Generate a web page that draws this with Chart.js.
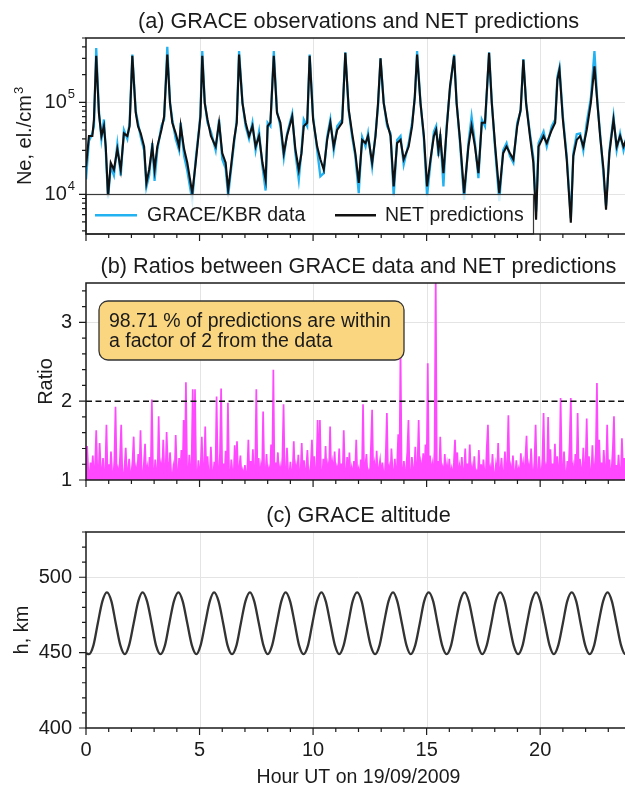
<!DOCTYPE html>
<html>
<head>
<meta charset="utf-8">
<script src="https://cdn.jsdelivr.net/npm/chart.js@4"></script>
<style>
  html, body { margin: 0; padding: 0; overflow: hidden; background: #fff; width: 625px; height: 785px; }
  .panel { position: absolute; left: 0; width: 631px; }
  canvas { display: block; }
</style>
</head>
<body>
<div class="panel" style="top:0;height:250px"><canvas id="neChart" width="631" height="250"></canvas></div>
<div class="panel" style="top:250px;height:240px"><canvas id="ratioChart" width="631" height="240"></canvas></div>
<div class="panel" style="top:490px;height:295px"><canvas id="altChart" width="631" height="295"></canvas></div>
<script>
// ---- data ----
const neHours = [
  0.00, 0.13, 0.28, 0.35, 0.45, 0.57, 0.68, 0.79, 0.87, 0.97, 1.09, 1.23, 1.38, 1.53, 1.67, 1.82, 1.92, 2.04,
  2.19, 2.29, 2.41, 2.56, 2.66, 2.78, 2.92, 3.02, 3.14, 3.32, 3.44, 3.58,
  3.70, 3.80, 3.95, 4.10, 4.17, 4.32, 4.46, 4.68, 4.83, 4.98, 5.04, 5.12,
  5.23, 5.35, 5.50, 5.71, 5.86, 6.00, 6.15, 6.26, 6.37, 6.52, 6.64, 6.74,
  6.89, 7.03, 7.18, 7.33, 7.47, 7.62, 7.77, 7.91, 8.00, 8.12, 8.27,
  8.41, 8.56, 8.71, 8.85, 9.08, 9.22, 9.37, 9.49, 9.59, 9.74, 9.85,
  10.00, 10.18, 10.32, 10.47, 10.62, 10.76, 10.91, 11.06, 11.28, 11.42,
  11.57, 11.72, 11.86, 12.01, 12.16, 12.31, 12.42, 12.60, 12.75, 12.86, 12.97,
  13.11, 13.26, 13.41, 13.55, 13.70, 13.85, 13.99, 14.21, 14.36, 14.48, 14.58,
  14.73, 14.88, 15.02, 15.17, 15.32, 15.42, 15.52, 15.60, 15.74, 15.88, 16.03, 16.21,
  16.32, 16.47, 16.65, 16.84, 16.98, 17.13, 17.28, 17.43, 17.57, 17.75,
  17.87, 18.02, 18.20, 18.37, 18.52, 18.67, 18.82, 18.99, 19.14, 19.26,
  19.38, 19.55, 19.70, 19.82, 19.93, 20.15, 20.29, 20.51, 20.66, 20.76, 20.85,
  21.00, 21.17, 21.35, 21.46, 21.61, 21.76, 21.90, 22.05, 22.23, 22.39,
  22.52, 22.64, 22.79, 22.90, 23.05, 23.23, 23.37, 23.52, 23.67, 23.80, 24.00
];
const netNe = [
  2.0e4, 4.3e4, 4.3e4, 6.5e4, 3.2e5, 7.5e4, 4.3e4, 5.5e4, 3.3e4, 9.5e3, 2.2e4, 1.85e4, 3.1e4, 1.85e4, 4.6e4, 4.3e4, 5.5e4, 3.2e5,
  7.7e4, 5.5e4, 4.6e4, 3.3e4, 1.33e4, 1.85e4, 3.3e4, 1.85e4, 3.3e4, 5.0e4, 7.0e4, 3.3e5,
  9.8e4, 6.0e4, 4.6e4, 3.3e4, 5.5e4, 3.1e4, 2.2e4, 1.03e4, 2.2e4, 5.0e4, 7.0e4, 3.2e5,
  9.8e4, 6.5e4, 4.3e4, 3.3e4, 6.0e4, 2.8e4, 2.2e4, 1.12e4, 1.85e4, 3.9e4, 6.0e4, 3.3e5,
  9.8e4, 6.0e4, 4.3e4, 5.5e4, 3.3e4, 4.3e4, 2.2e4, 1.44e4, 5.5e4, 6.0e4, 3.2e5,
  7.7e4, 6.0e4, 2.8e4, 4.3e4, 7.0e4, 3.1e4, 1.85e4, 2.8e4, 5.5e4, 6.0e4, 3.2e5,
  6.5e4, 3.3e4, 2.4e4, 1.85e4, 3.9e4, 6.0e4, 3.3e4, 5.0e4, 6.0e4, 3.45e5,
  8.3e4, 4.6e4, 2.8e4, 1.33e4, 3.9e4, 3.6e4, 4.3e4, 2.2e4, 4.3e4, 9.8e4, 3.0e5,
  9.8e4, 6.0e4, 4.3e4, 1.22e4, 3.6e4, 3.9e4, 2.4e4, 3.3e4, 5.5e4, 1.16e5, 3.3e5,
  9.8e4, 4.3e4, 1.22e4, 2.4e4, 4.3e4, 5.0e4, 3.0e4, 4.3e4, 1.7e4, 5.0e4, 1.5e5, 3.2e5,
  9.8e4, 3.9e4, 1.03e4, 3.3e4, 5.5e4, 3.3e4, 1.7e4, 6.0e4, 6.0e4, 3.45e5,
  9.8e4, 3.3e4, 1.03e4, 2.8e4, 3.3e4, 2.8e4, 2.4e4, 5.5e4, 8.3e4, 2.9e5,
  9.8e4, 4.3e4, 2.2e4, 5.3e3, 3.3e4, 4.3e4, 3.6e4, 5.0e4, 6.0e4, 1.76e5, 2.26e5,
  6.5e4, 2.4e4, 4.9e3, 2.6e4, 3.9e4, 4.3e4, 3.3e4, 5.0e4, 9.8e4, 2.46e5,
  9.8e4, 4.3e4, 1.85e4, 6.8e3, 2.8e4, 6.5e4, 3.3e4, 4.3e4, 3.3e4, 4.0e4, 4.5e4
];
const graceNe = [
  1.45e4, 3.8e4, 4.6e4, 5.5e4, 3.9e5, 8.0e4, 4.0e4, 6.5e4, 3.0e4, 9.0e3, 2.0e4, 1.6e4, 3.5e4, 1.6e4, 5.0e4, 4.0e4, 6.0e4, 3.3e5,
  8.0e4, 6.0e4, 4.2e4, 3.0e4, 1.2e4, 1.6e4, 3.6e4, 1.4e4, 3.0e4, 5.5e4, 6.5e4, 4.0e5,
  1.0e5, 6.5e4, 4.0e4, 3.0e4, 6.0e4, 2.6e4, 1.8e4, 8.5e3, 2.4e4, 5.2e4, 7.5e4, 3.6e5,
  1.0e5, 6.0e4, 4.8e4, 3.0e4, 6.5e4, 2.4e4, 1.9e4, 9.5e3, 1.7e4, 3.6e4, 6.5e4, 3.6e5,
  1.0e5, 5.5e4, 4.0e4, 6.0e4, 3.0e4, 4.8e4, 2.0e4, 1.1e4, 6.0e4, 5.5e4, 3.6e5,
  8.0e4, 5.5e4, 2.5e4, 4.5e4, 7.5e4, 2.8e4, 1.44e4, 3.0e4, 6.5e4, 5.5e4, 3.3e5,
  7.0e4, 3.0e4, 1.57e4, 1.7e4, 4.2e4, 6.5e4, 3.0e4, 5.5e4, 6.5e4, 3.5e5,
  8.0e4, 4.2e4, 2.6e4, 1.03e4, 4.2e4, 3.3e4, 4.6e4, 2.0e4, 4.6e4, 9.0e4, 3.0e5,
  1.0e5, 5.5e4, 4.6e4, 9.5e3, 3.9e4, 4.3e4, 2.1e4, 3.6e4, 6.0e4, 1.1e5, 3.6e5,
  1.0e5, 4.0e4, 9.5e3, 2.2e4, 4.8e4, 5.5e4, 2.6e4, 4.5e4, 1.22e4, 5.5e4, 1.4e5, 3.3e5,
  1.0e5, 3.6e4, 8.7e3, 3.6e4, 7.0e4, 3.6e4, 1.5e4, 6.5e4, 5.5e4, 3.5e5,
  1.0e5, 3.0e4, 8.4e3, 3.0e4, 3.6e4, 2.6e4, 2.2e4, 6.0e4, 8.0e4, 2.95e5,
  1.0e5, 4.6e4, 2.5e4, 6.5e3, 3.6e4, 4.8e4, 3.3e4, 5.5e4, 6.5e4, 1.9e5, 2.4e5,
  7.0e4, 2.6e4, 5.5e3, 2.8e4, 4.5e4, 4.6e4, 3.0e4, 6.0e4, 1.1e5, 3.6e5,
  1.0e5, 4.6e4, 1.6e4, 7.5e3, 3.0e4, 7.0e4, 3.0e4, 4.6e4, 3.0e4, 4.2e4, 4.6e4
];

// ratio GRACE/NET, one value every 0.05 h (one row per hour)
const ratioStep = 0.05;
const ratioVals = [
  1.05,1.43,1.12,1.02,1.22,1.08,1.31,1.04,1.18,1.63,1.10,1.03,1.47,1.15,1.06,1.28,1.02,1.11,1.70,1.07,
  1.20,1.04,1.36,1.09,1.02,1.25,1.93,1.06,1.14,1.03,1.30,1.70,1.08,1.02,1.18,1.41,1.05,1.12,1.27,1.03,
  1.09,1.24,1.55,1.04,1.15,1.02,1.33,1.07,1.63,1.11,1.03,1.21,1.46,1.05,1.16,1.02,1.29,1.08,2.02,1.13,
  1.04,1.26,1.10,1.02,1.81,1.07,1.19,1.03,1.51,1.12,1.05,1.61,1.22,1.04,1.35,1.09,1.02,1.17,1.06,1.57,
  1.11,1.03,1.28,1.06,1.38,1.02,1.76,1.09,2.24,1.14,1.04,1.32,1.07,1.20,2.15,1.05,2.15,1.10,1.02,1.25,
  1.06,1.18,1.55,1.03,1.12,1.68,1.04,1.30,1.08,1.02,1.42,1.10,1.05,1.23,1.03,2.06,1.13,1.04,1.34,2.16,
  1.08,1.21,1.03,1.37,1.06,1.98,1.11,1.02,1.26,1.09,1.04,1.44,1.07,1.49,1.02,1.15,1.31,1.05,1.12,1.03,
  1.19,1.04,1.09,1.51,1.03,1.24,1.07,1.39,1.02,1.13,2.15,1.06,1.28,1.04,1.17,1.02,1.87,1.10,1.05,1.33,
  1.06,1.14,1.02,1.45,1.08,2.40,1.04,1.22,1.10,1.35,1.03,1.16,1.05,1.29,1.96,1.07,1.02,1.41,1.11,1.04,
  1.23,1.05,1.12,1.49,1.03,1.18,1.08,1.32,1.02,1.10,1.47,1.06,1.25,1.03,1.15,1.38,1.04,1.09,1.20,1.51,
  1.07,1.30,1.03,1.14,1.76,1.05,1.76,1.10,1.02,1.27,1.06,1.43,1.04,1.19,1.08,1.68,1.03,1.22,1.11,1.36,
  1.04,1.16,1.09,1.40,1.02,1.21,1.06,1.63,1.12,1.03,1.29,1.07,1.35,1.02,1.15,1.05,1.24,1.09,1.51,1.04,
  1.13,1.02,1.26,1.07,1.96,1.04,1.18,1.33,1.05,1.11,1.02,1.44,1.89,1.08,1.20,1.03,1.37,1.06,1.14,1.25,
  1.05,1.22,1.09,1.03,1.31,1.85,1.07,1.16,1.02,1.40,1.11,1.04,1.27,1.06,1.19,1.58,1.03,2.70,1.12,1.08,
  1.24,1.04,1.15,1.36,1.76,1.08,1.02,1.29,1.13,1.05,1.42,1.07,1.18,1.76,1.03,1.21,1.10,1.34,1.06,1.45,
  1.12,2.48,1.05,1.31,1.09,1.20,1.04,1.38,3.60,1.07,1.24,1.03,1.55,1.10,1.16,1.02,1.33,1.06,1.19,1.04,
  1.27,1.05,1.14,1.03,1.22,1.51,1.08,1.35,1.02,1.17,1.06,1.29,1.04,1.12,1.40,1.03,1.21,1.09,1.45,1.05,
  1.16,1.03,1.30,1.07,1.11,1.02,1.38,1.05,1.20,1.04,1.26,1.09,1.03,1.42,1.70,1.06,1.15,1.02,1.33,1.08,
  1.04,1.19,1.06,1.47,1.03,1.13,1.28,1.02,1.09,1.36,1.05,1.22,1.82,1.07,1.17,1.03,1.31,1.10,1.04,1.25,
  1.07,1.14,1.02,1.34,1.09,1.21,1.04,1.28,1.56,1.06,1.18,1.03,1.40,1.11,1.05,1.24,1.70,1.08,1.02,1.30,
  1.12,1.04,1.27,1.85,1.06,1.16,1.03,1.80,1.10,1.39,1.05,1.21,1.08,1.46,1.02,1.30,1.13,1.04,2.04,1.19,
  1.05,1.36,1.09,1.03,1.24,1.11,1.48,2.04,1.06,1.17,1.02,1.33,1.08,1.85,1.04,1.27,1.14,1.03,1.41,1.07,
  1.20,1.78,1.05,1.30,1.10,1.02,1.44,1.07,1.16,1.34,2.23,1.04,1.51,1.09,1.22,1.03,1.38,1.12,1.05,1.70,
  1.08,1.26,1.03,1.15,1.40,1.81,1.06,1.19,1.02,1.32,1.10,1.04,1.53,1.13,1.28,1.05,1.37,1.09,1.22,1.04,
  1.15
];
const ratioLimit = 2;
const ratioNote = ['98.71 % of predictions are within', 'a factor of 2 from the data'];

const altHours = [
  0.00, 0.13,
  0.33, 0.52, 0.72, 0.92, 1.12, 1.31, 1.51, 1.71,
  1.90, 2.10, 2.30, 2.49, 2.69, 2.89, 3.08, 3.28,
  3.48, 3.67, 3.87, 4.07, 4.26, 4.46, 4.66, 4.86,
  5.05, 5.25, 5.45, 5.64, 5.84, 6.04, 6.23, 6.43,
  6.63, 6.82, 7.02, 7.22, 7.41, 7.61, 7.81, 8.00,
  8.20, 8.40, 8.60, 8.79, 8.99, 9.19, 9.38, 9.58,
  9.78, 9.97, 10.17, 10.37, 10.56, 10.76, 10.96, 11.15,
  11.35, 11.55, 11.74, 11.94, 12.14, 12.33, 12.53, 12.73,
  12.93, 13.12, 13.32, 13.52, 13.71, 13.91, 14.11, 14.30,
  14.50, 14.70, 14.89, 15.09, 15.29, 15.48, 15.68, 15.88,
  16.08, 16.27, 16.47, 16.67, 16.86, 17.06, 17.26, 17.45,
  17.65, 17.85, 18.04, 18.24, 18.44, 18.63, 18.83, 19.03,
  19.23, 19.42, 19.62, 19.82, 20.01, 20.21, 20.41, 20.60,
  20.80, 21.00, 21.19, 21.39, 21.59, 21.78, 21.98, 22.18,
  22.38, 22.57, 22.77, 22.97, 23.16, 23.36, 23.56, 23.75,
  23.95
];
const altKm = [
  449.5, 449,
  455, 469.5, 484, 490, 484, 469.5, 455, 449,
  455, 469.5, 484, 490, 484, 469.5, 455, 449,
  455, 469.5, 484, 490, 484, 469.5, 455, 449,
  455, 469.5, 484, 490, 484, 469.5, 455, 449,
  455, 469.5, 484, 490, 484, 469.5, 455, 449,
  455, 469.5, 484, 490, 484, 469.5, 455, 449,
  455, 469.5, 484, 490, 484, 469.5, 455, 449,
  455, 469.5, 484, 490, 484, 469.5, 455, 449,
  455, 469.5, 484, 490, 484, 469.5, 455, 449,
  455, 469.5, 484, 490, 484, 469.5, 455, 449,
  455, 469.5, 484, 490, 484, 469.5, 455, 449,
  455, 469.5, 484, 490, 484, 469.5, 455, 449,
  455, 469.5, 484, 490, 484, 469.5, 455, 449,
  455, 469.5, 484, 490, 484, 469.5, 455, 449,
  455, 469.5, 484, 490, 484, 469.5, 455, 449,
  455
];

const hourTicks = [0, 5, 10, 15, 20];
const neTicks = [1e4, 1e5];
const ratioTicks = [1, 2, 3];
const altTicks = [400, 450, 500];

// ---- styling helpers ----
const FONT = '"Liberation Sans", Arial, Helvetica, sans-serif';
const INK = '#1b1b1b';
const MAGENTA = '#ff48ff';

function powLabel(ctx, v, xr, py) {
  const e = String(Math.round(Math.log10(v)));
  ctx.textAlign = 'right';
  ctx.textBaseline = 'middle';
  ctx.font = `13px ${FONT}`;
  const we = ctx.measureText(e).width;
  ctx.fillText(e, xr, py - 8);
  ctx.font = `20px ${FONT}`;
  ctx.fillText('10', xr - we - 1, py);
}

const deco = {
  id: 'deco',
  beforeDatasetsDraw(chart, args, o) {
    const {ctx, chartArea: a, scales: {x, y}} = chart;
    ctx.save();
    ctx.strokeStyle = '#e4e4e4';
    ctx.lineWidth = 1;
    ctx.beginPath();
    hourTicks.forEach(v => {
      if (v === 0) return;
      const px = Math.round(x.getPixelForValue(v)) + 0.5;
      ctx.moveTo(px, a.top); ctx.lineTo(px, a.bottom);
    });
    o.yGrid.forEach(v => {
      const py = Math.round(y.getPixelForValue(v)) + 0.5;
      ctx.moveTo(a.left, py); ctx.lineTo(a.right, py);
    });
    ctx.stroke();
    ctx.restore();
  },
  afterDraw(chart, args, o) {
    const {ctx, chartArea: a, scales: {x, y}} = chart;
    ctx.save();
    if (o.overlay) o.overlay(chart);

    // frame: left, bottom, top
    ctx.strokeStyle = INK;
    ctx.lineWidth = 1.5;
    ctx.beginPath();
    ctx.moveTo(a.right, a.top); ctx.lineTo(a.left, a.top);
    ctx.lineTo(a.left, a.bottom); ctx.lineTo(a.right, a.bottom);
    ctx.stroke();

    // ticks (outward)
    ctx.lineWidth = 1.2;
    ctx.beginPath();
    for (let h = 0; h <= 24; h++) {
      const px = x.getPixelForValue(h);
      ctx.moveTo(px, a.bottom); ctx.lineTo(px, a.bottom + (h % 5 === 0 ? 7 : 4));
    }
    o.yMajor.forEach(v => { const py = y.getPixelForValue(v); ctx.moveTo(a.left, py); ctx.lineTo(a.left - 7, py); });
    o.yMinor.forEach(v => { const py = y.getPixelForValue(v); ctx.moveTo(a.left, py); ctx.lineTo(a.left - 4, py); });
    ctx.stroke();

    // tick labels
    ctx.fillStyle = INK;
    o.yMajor.forEach(v => {
      const py = y.getPixelForValue(v);
      if (o.logLabels) {
        powLabel(ctx, v, a.left - 11, py);
      } else {
        ctx.font = `20px ${FONT}`;
        ctx.textAlign = 'right';
        ctx.textBaseline = 'middle';
        ctx.fillText(String(v), a.left - 14, py);
      }
    });
    if (o.xLabels) {
      ctx.font = `20px ${FONT}`;
      ctx.textAlign = 'center';
      ctx.textBaseline = 'middle';
      hourTicks.forEach(v => ctx.fillText(String(v), x.getPixelForValue(v), a.bottom + 22));
      ctx.font = `19.5px ${FONT}`;
      ctx.textBaseline = 'alphabetic';
      ctx.fillText(o.xTitle, (a.left + a.right) / 2, a.bottom + 55);
    }

    // panel title
    ctx.font = `21.7px ${FONT}`;
    ctx.textAlign = 'center';
    ctx.textBaseline = 'alphabetic';
    ctx.fillText(o.title, (a.left + a.right) / 2, a.top - 10);

    // y title, rotated
    ctx.translate(o.yTitleX, (a.top + a.bottom) / 2);
    ctx.rotate(-Math.PI / 2);
    ctx.font = `20px ${FONT}`;
    const wMain = ctx.measureText(o.yTitle).width;
    let wSup = 0;
    if (o.yTitleSup) {
      ctx.font = `13px ${FONT}`;
      wSup = ctx.measureText(o.yTitleSup).width + 1;
    }
    const x0 = -(wMain + wSup) / 2;
    ctx.textAlign = 'left';
    ctx.font = `20px ${FONT}`;
    ctx.fillText(o.yTitle, x0, 0);
    if (o.yTitleSup) {
      ctx.font = `13px ${FONT}`;
      ctx.fillText(o.yTitleSup, x0 + wMain + 1, -8);
    }
    ctx.restore();
  }
};

function baseOptions(yScale, padding, decoOpts) {
  return {
    responsive: false,
    animation: false,
    devicePixelRatio: 1,
    layout: {padding},
    events: [],
    plugins: {legend: {display: false}, tooltip: {enabled: false}, deco: decoOpts},
    elements: {point: {radius: 0}},
    scales: {
      x: {type: 'linear', min: 0, max: 24, display: false},
      y: Object.assign({display: false}, yScale)
    }
  };
}

// ---- (a) Ne ----
const logMinor = [];
[1e3, 1e4, 1e5].forEach(d => { for (let k = 2; k <= 9; k++) { const v = k * d; if (v >= 3.7e3 && v <= 5e5) logMinor.push(v); } });

new Chart(document.getElementById('neChart'), {
  type: 'line',
  plugins: [deco],
  data: {
    datasets: [
      {label: 'NET predictions', data: neHours.map((h, i) => ({x: h, y: netNe[i]})),
       borderColor: '#111111', borderWidth: 2.1, tension: 0, order: 0},
      {label: 'GRACE/KBR data', data: neHours.map((h, i) => ({x: h, y: graceNe[i]})),
       borderColor: '#22b2f2', borderWidth: 2.3, tension: 0, order: 1}
    ]
  },
  options: baseOptions({type: 'logarithmic', min: 3.7e3, max: 5e5},
    {left: 86, top: 38, right: 0, bottom: 16},
    {
      title: '(a) GRACE observations and NET predictions',
      yTitle: 'Ne, el./cm', yTitleSup: '3', yTitleX: 31,
      yGrid: neTicks, yMajor: neTicks, yMinor: logMinor, logLabels: true,
      overlay(chart) {
        const {ctx, chartArea: a, scales: {y}} = chart;
        const top = Math.round(y.getPixelForValue(1e4)) + 0.5;
        const right = 533.5, mid = (top + a.bottom) / 2 + 1;
        ctx.fillStyle = 'rgba(255,255,255,0.82)';
        ctx.fillRect(a.left, top, right - a.left, a.bottom - top);
        ctx.strokeStyle = '#3a3a3a';
        ctx.lineWidth = 1.2;
        ctx.strokeRect(a.left, top, right - a.left, a.bottom - top);
        ctx.lineWidth = 2.4;
        ctx.strokeStyle = '#22b2f2';
        ctx.beginPath(); ctx.moveTo(a.left + 9, mid); ctx.lineTo(a.left + 51, mid); ctx.stroke();
        ctx.strokeStyle = '#111';
        ctx.beginPath(); ctx.moveTo(a.left + 249, mid); ctx.lineTo(a.left + 290, mid); ctx.stroke();
        ctx.fillStyle = INK;
        ctx.font = `19.5px ${FONT}`;
        ctx.textAlign = 'left';
        ctx.textBaseline = 'middle';
        ctx.fillText('GRACE/KBR data', a.left + 61, mid);
        ctx.fillText('NET predictions', a.left + 299, mid);
      }
    })
});

// ---- (b) ratio ----
const ratioMinor = [];
for (let v = 1.2; v < 3.5; v += 0.2) { const r = Math.round(v * 10) / 10; if (r !== 2 && r !== 3) ratioMinor.push(r); }

new Chart(document.getElementById('ratioChart'), {
  type: 'line',
  plugins: [deco],
  data: {
    datasets: [{
      label: 'Ratio',
      data: ratioVals.map((v, i) => ({x: i * ratioStep, y: v})),
      borderColor: MAGENTA, borderWidth: 1.7, tension: 0,
      fill: {value: 1}, backgroundColor: MAGENTA
    }]
  },
  options: baseOptions({type: 'linear', min: 1, max: 3.5},
    {left: 86, top: 33, right: 0, bottom: 10},
    {
      title: '(b) Ratios between GRACE data and NET predictions',
      yTitle: 'Ratio', yTitleX: 52,
      yGrid: [3], yMajor: ratioTicks, yMinor: ratioMinor,
      overlay(chart) {
        const {ctx, chartArea: a, scales: {y}} = chart;
        const py = y.getPixelForValue(ratioLimit);
        ctx.strokeStyle = '#111';
        ctx.lineWidth = 1.4;
        ctx.setLineDash([6, 3.5]);
        ctx.beginPath(); ctx.moveTo(a.left, py); ctx.lineTo(a.right, py); ctx.stroke();
        ctx.setLineDash([]);
        const bx = a.left + 13, by = a.top + 18, bw = 305, bh = 59;
        ctx.beginPath();
        ctx.roundRect(bx, by, bw, bh, 9);
        ctx.fillStyle = '#f9d67f';
        ctx.fill();
        ctx.strokeStyle = '#333';
        ctx.lineWidth = 1.3;
        ctx.stroke();
        ctx.fillStyle = INK;
        ctx.font = `19.5px ${FONT}`;
        ctx.textAlign = 'left';
        ctx.textBaseline = 'alphabetic';
        ctx.fillText(ratioNote[0], bx + 10, a.top + 44);
        ctx.fillText(ratioNote[1], bx + 10, a.top + 64);
      }
    })
});

// ---- (c) altitude ----
const altMinor = [];
for (let v = 410; v <= 530; v += 10) if (v !== 450 && v !== 500) altMinor.push(v);

new Chart(document.getElementById('altChart'), {
  type: 'line',
  plugins: [deco],
  data: {
    datasets: [{
      label: 'h',
      data: altHours.map((h, i) => ({x: h, y: altKm[i]})),
      borderColor: '#333333', borderWidth: 2.3, cubicInterpolationMode: 'monotone'
    }]
  },
  options: baseOptions({type: 'linear', min: 400, max: 530},
    {left: 86, top: 42, right: 0, bottom: 57},
    {
      title: '(c) GRACE altitude',
      yTitle: 'h, km', yTitleX: 28,
      yGrid: [450, 500], yMajor: altTicks, yMinor: altMinor,
      xLabels: true, xTitle: 'Hour UT on 19/09/2009'
    })
});
</script>
</body>
</html>
